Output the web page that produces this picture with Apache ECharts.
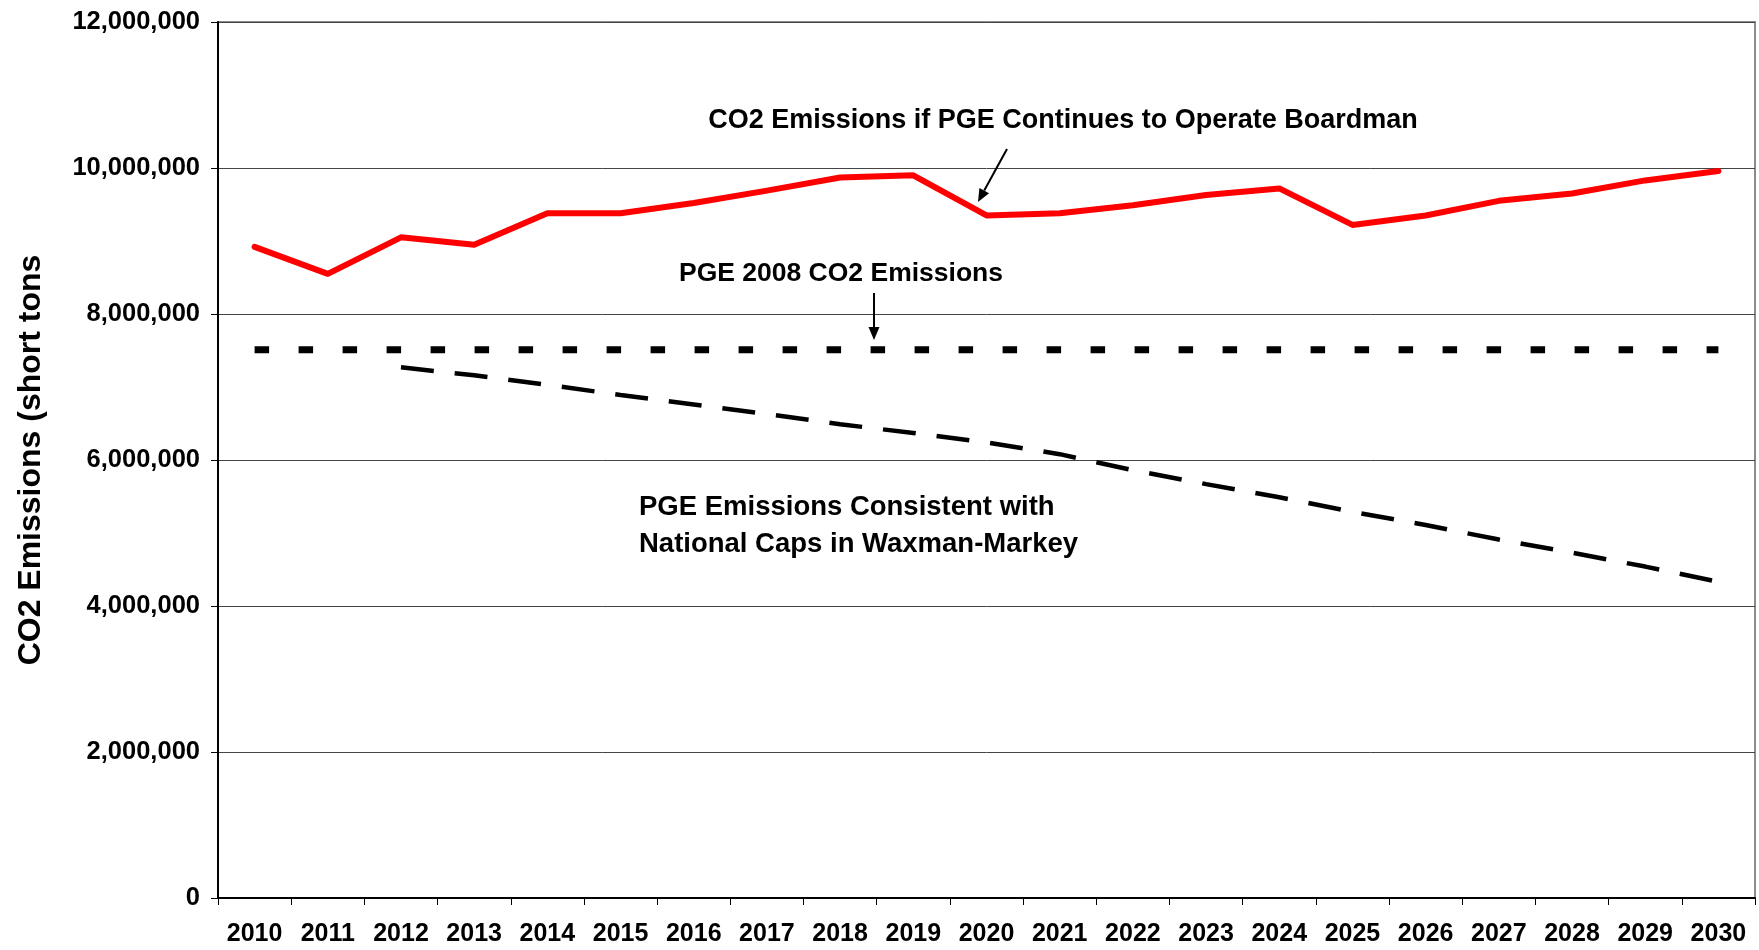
<!DOCTYPE html>
<html>
<head>
<meta charset="utf-8">
<script src="https://cdn.jsdelivr.net/npm/echarts@6/dist/echarts.min.js"></script>
<style>html,body{margin:0;padding:0;background:#fff;}#c{width:1759px;height:950px;}</style>
</head>
<body>
<div id="c"></div>
<script>
var years = ['2010','2011','2012','2013','2014','2015','2016','2017','2018','2019','2020','2021','2022','2023','2024','2025','2026','2027','2028','2029','2030'];
var boardman = [8920000,8550000,9050000,8950000,9380000,9380000,9520000,9690000,9870000,9900000,9350000,9380000,9490000,9630000,9720000,9220000,9350000,9550000,9650000,9830000,9960000];
var pge2008 = [7510000,7510000,7510000,7510000,7510000,7510000,7510000,7510000,7510000,7510000,7510000,7510000,7510000,7510000,7510000,7510000,7510000,7510000,7510000,7510000,7510000];
var waxmanMarkey = [null,null,7270000,7160000,7030000,6890000,6760000,6630000,6490000,6370000,6240000,6080000,5860000,5670000,5490000,5290000,5110000,4910000,4730000,4540000,4330000];
var yTicks = [0,2000000,4000000,6000000,8000000,10000000,12000000];

var FONT = '"Liberation Sans", Arial, sans-serif';
var chart = echarts.init(document.getElementById('c'));

function arrow(x1,y1,x2,y2){
  var ang = Math.atan2(y2-y1,x2-x1), L = 13, W = 5.5;
  var bx = x2 - L*Math.cos(ang), by = y2 - L*Math.sin(ang);
  var px = -Math.sin(ang)*W, py = Math.cos(ang)*W;
  return [
    {type:'line', shape:{x1:x1,y1:y1,x2:bx,y2:by}, style:{stroke:'#000', lineWidth:2}, z:10},
    {type:'polygon', shape:{points:[[x2,y2],[bx+px,by+py],[bx-px,by-py]]}, style:{fill:'#000'}, z:10}
  ];
}

var graphics = [
  {type:'text', x:1063, y:121, z:10, style:{text:'CO2 Emissions if PGE Continues to Operate Boardman', font:'bold 27px '+FONT, fill:'#000', align:'center', verticalAlign:'middle'}},
  {type:'text', x:841, y:274, z:10, style:{text:'PGE 2008 CO2 Emissions', font:'bold 26.5px '+FONT, fill:'#000', align:'center', verticalAlign:'middle'}},
  {type:'text', x:639, y:507, z:10, style:{text:'PGE Emissions Consistent with', font:'bold 27.5px '+FONT, fill:'#000', align:'left', verticalAlign:'middle'}},
  {type:'text', x:639, y:544, z:10, style:{text:'National Caps in Waxman-Markey', font:'bold 27.5px '+FONT, fill:'#000', align:'left', verticalAlign:'middle'}}
].concat(arrow(1007,149,978,202)).concat(arrow(874,293,874,340));

chart.setOption({
  animation:false,
  backgroundColor:'#fff',
  grid:{left:218, right:4, top:22, bottom:52, show:true, borderColor:'#8c8c8c', borderWidth:2},
  xAxis:{
    type:'category', data:years, boundaryGap:true,
    axisLine:{show:true, lineStyle:{color:'#000', width:2}},
    axisTick:{show:true, alignWithLabel:false, length:7, lineStyle:{color:'#000', width:1}},
    axisLabel:{color:'#000', fontFamily:FONT, fontWeight:'bold', fontSize:25, margin:24, interval:0},
    splitLine:{show:false}
  },
  yAxis:{
    type:'value', min:yTicks[0], max:yTicks[yTicks.length-1], interval:yTicks[1]-yTicks[0],
    name:'CO2 Emissions (short tons', nameLocation:'middle', nameRotate:90, nameGap:171,
    nameTextStyle:{color:'#000', fontFamily:FONT, fontWeight:'bold', fontSize:32},
    axisLine:{show:true, lineStyle:{color:'#000', width:2}},
    axisTick:{show:true, length:7, lineStyle:{color:'#000', width:1}},
    axisLabel:{color:'#000', fontFamily:FONT, fontWeight:'bold', fontSize:25.5, margin:18,
      formatter:function(v){return v.toLocaleString('en-US');}},
    splitLine:{show:true, lineStyle:{color:'#444', width:1}}
  },
  series:[
    {name:'Boardman', type:'line', data:boardman, symbol:'none', smooth:false,
      lineStyle:{color:'#ff0000', width:6, cap:'round', join:'round'}, z:5},
    {name:'PGE 2008', type:'line', data:pge2008, symbol:'none',
      lineStyle:{color:'#000', width:7, type:[14.5,29.5], cap:'butt'}, z:4},
    {name:'Waxman-Markey', type:'line', data:waxmanMarkey, symbol:'none', connectNulls:false,
      lineStyle:{color:'#000', width:4.5, type:[33,21], cap:'butt'}, z:4}
  ],
  graphic:graphics
});
</script>
</body>
</html>
